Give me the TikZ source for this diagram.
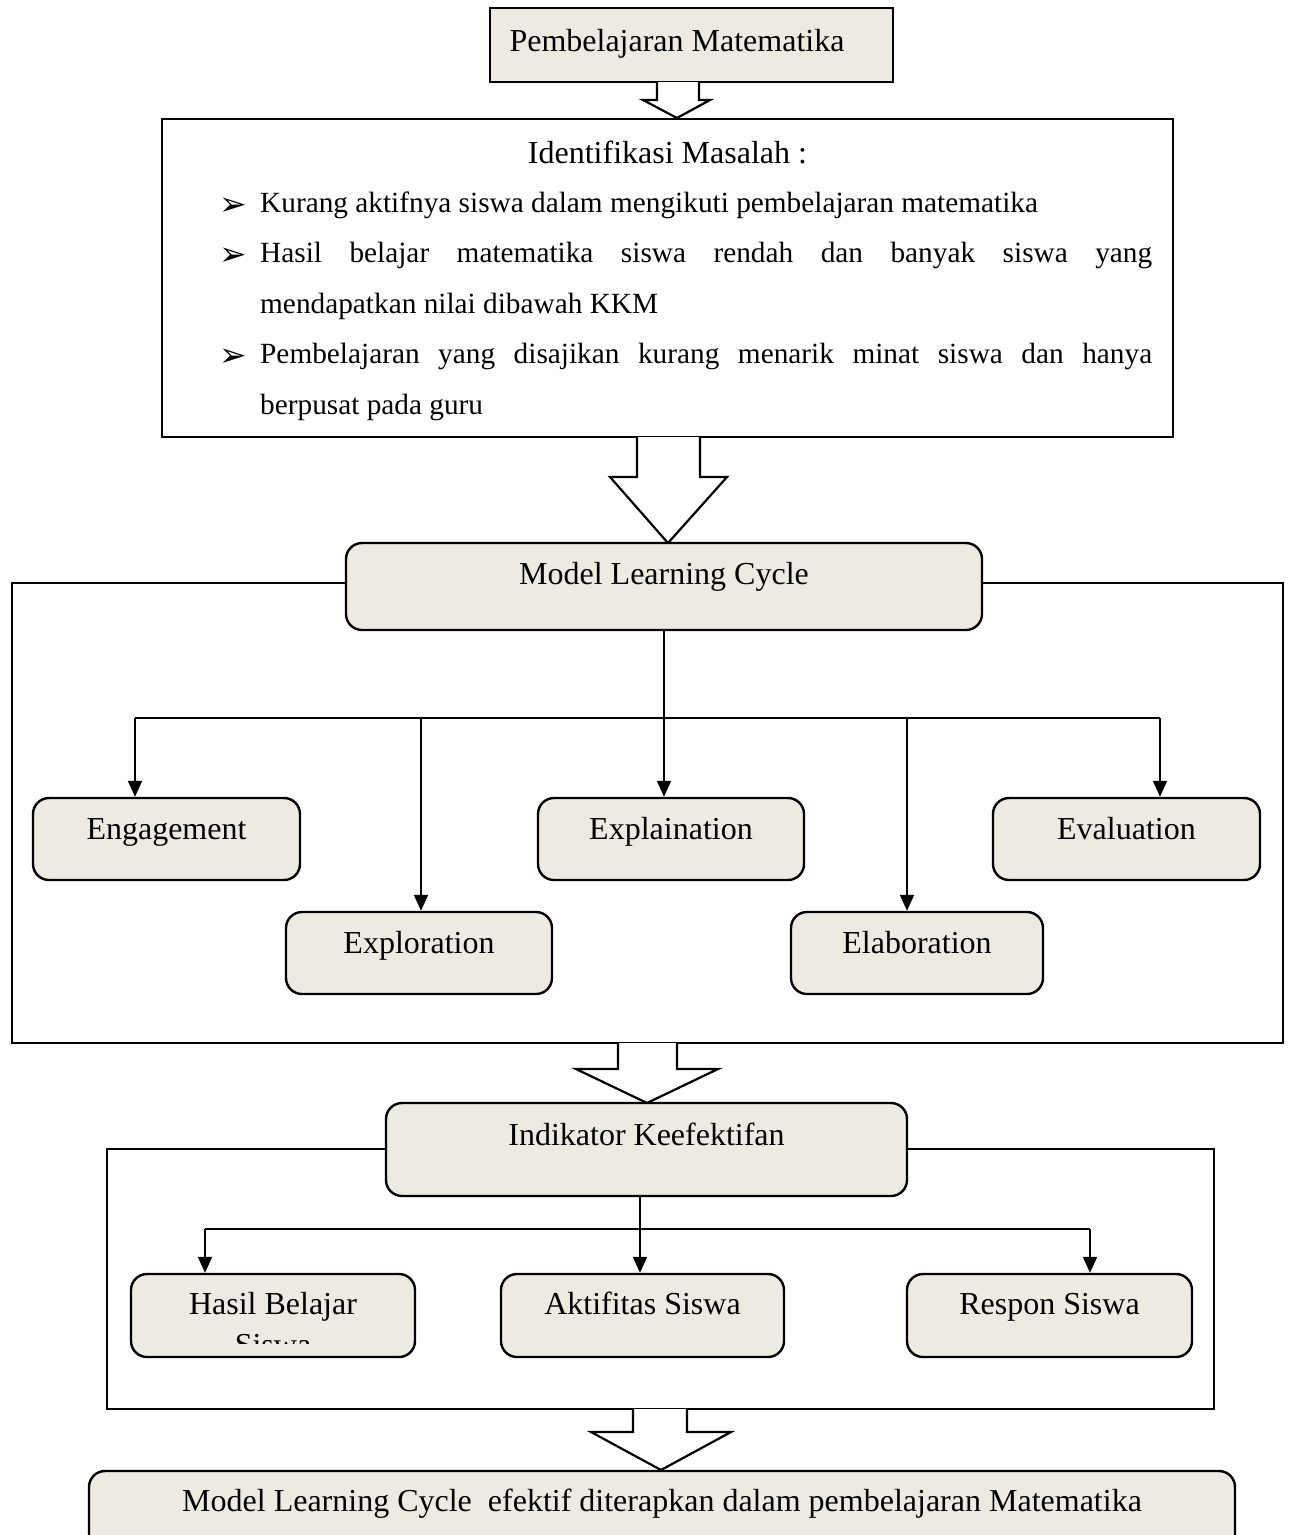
\documentclass[tikz,border=0pt]{standalone}
\usepackage{fontspec}
\setmainfont{Liberation Serif}
\newfontfamily\dingfont{DejaVu Sans}
\usetikzlibrary{arrows.meta,calc}
\definecolor{boxfill}{RGB}{237,235,225}
\newcommand\lblfont{\fontsize{32pt}{38pt}\selectfont}
\newcommand\itemfont{\fontsize{29.3pt}{35pt}\selectfont}
\tikzset{
  frame/.style={draw, line width=2.2pt},
  sbox/.style={draw, line width=2.4pt, fill=boxfill, inner sep=0pt},
  rbox/.style={sbox, rounded corners=16pt},
  lbl/.style={inner sep=0pt, anchor=base, font=\lblfont},
  itm/.style={inner sep=0pt, anchor=base west, font=\itemfont},
  bul/.style={inner sep=0pt, anchor=base, font=\dingfont\fontsize{33pt}{35pt}\selectfont},
  conn/.style={line width=2pt},
  arr/.style={line width=2pt, -{Triangle[width=14pt,length=16pt]}},
}
% block arrow: top y, stem left, stem right, neck y, head left, head right, tip x, tip y
\newcommand\blockarrow[8]{%
  \fill[white] (#2,#1) -- (#2,#4) -- (#5,#4) -- (#7,#8) -- (#6,#4) -- (#3,#4) -- (#3,#1) -- cycle;
  \draw[line width=2.2pt, line join=miter] (#2,#1) -- (#2,#4) -- (#5,#4) -- (#7,#8) -- (#6,#4) -- (#3,#4) -- (#3,#1);
}
\begin{document}
\begin{tikzpicture}[x=1pt, y=-1pt]
\useasboundingbox (0,0) rectangle (1290,1535);
\clip (0,0) rectangle (1290,1535);

% ---- outer frames (behind everything) ----
\draw[frame] (12,583) rectangle (1283,1043);
\draw[frame] (107,1149) rectangle (1214,1409);

% ---- problem identification frame ----
\node[draw, line width=2.2pt, fill=white, inner sep=0pt, minimum width=1011pt, minimum height=318pt] (ident) at (667.5,278) {};

% ---- top box ----
\node[sbox, minimum width=403pt, minimum height=74pt] (top) at (691.5,45) {};

% ---- block arrows ----
\blockarrow{82}{657}{699}{100}{643}{710}{677}{118}
\blockarrow{437}{637}{700}{477}{610}{727}{668}{543}
\blockarrow{1043}{618}{677}{1069}{576}{718}{647}{1103}
\blockarrow{1409}{633}{687}{1432}{591}{731}{661}{1470}

\node[lbl] (topT) at (677,51) {Pembelajaran Matematika};

% ---- identification text ----
\node[lbl] (identT) at (667.5,163) {Identifikasi Masalah :};
\node[bul] (b1) at (233,215) {➢};
\node[itm] (i1) at (260,212) {Kurang aktifnya siswa dalam mengikuti pembelajaran matematika};
\node[bul] (b2) at (233,265) {➢};
\node[itm] (i2) at (260,262) {\makebox[892pt][s]{Hasil belajar matematika siswa rendah dan banyak siswa yang}};
\node[itm] (i2b) at (260,313) {mendapatkan nilai dibawah KKM};
\node[bul] (b3) at (233,366) {➢};
\node[itm] (i3) at (260,363) {\makebox[892pt][s]{Pembelajaran yang disajikan kurang menarik minat siswa dan hanya}};
\node[itm] (i3b) at (260,414) {berpusat pada guru};

% ---- Model Learning Cycle ----
\node[rbox, minimum width=636pt, minimum height=87pt] (mlc) at (664,586.5) {};
\node[lbl] (mlcT) at ([yshift=-43pt]mlc.north) {Model Learning Cycle};

\node[rbox, minimum width=267pt, minimum height=82pt] (eng) at (166.5,839) {};
\node[rbox, minimum width=266pt, minimum height=82pt] (expl) at (671,839) {};
\node[rbox, minimum width=267pt, minimum height=82pt] (eval) at (1126.5,839) {};
\node[rbox, minimum width=266pt, minimum height=82pt] (explo) at (419,953) {};
\node[rbox, minimum width=252pt, minimum height=82pt] (elab) at (917,953) {};
\node[lbl] (engT) at ([yshift=-43pt]eng.north) {Engagement};
\node[lbl] (explT) at ([yshift=-43pt]expl.north) {Explaination};
\node[lbl] (evalT) at ([yshift=-43pt]eval.north) {Evaluation};
\node[lbl] (exploT) at ([yshift=-43pt]explo.north) {Exploration};
\node[lbl] (elabT) at ([yshift=-43pt]elab.north) {Elaboration};

% branching connectors
\coordinate (busL) at (135,718);
\coordinate (busR) at (1160,718);
\coordinate (busA) at (421,718);
\coordinate (busB) at (907,718);
\draw[conn] (busL) -- (busR);
\draw[arr] (mlc.south) -- (mlc.south |- expl.north);
\draw[arr] (busL) -- (busL |- eng.north);
\draw[arr] (busA) -- (busA |- explo.north);
\draw[arr] (busB) -- (busB |- elab.north);
\draw[arr] (busR) -- (busR |- eval.north);

% ---- effectiveness indicators ----
\node[rbox, minimum width=521pt, minimum height=93pt] (ind) at (646.5,1149.5) {};
\node[lbl] (indT) at ([yshift=-44pt]ind.north) {Indikator Keefektifan};

\node[rbox, minimum width=284pt, minimum height=83pt] (hasil) at (273,1315.5) {};
\node[rbox, minimum width=283pt, minimum height=83pt] (aktif) at (642.5,1315.5) {};
\node[rbox, minimum width=285pt, minimum height=83pt] (respon) at (1049.5,1315.5) {};
\node[lbl] (aktifT) at ([yshift=-42pt]aktif.north) {Aktifitas Siswa};
\node[lbl] (responT) at ([yshift=-42pt]respon.north) {Respon Siswa};
\node[lbl] (hasilT) at ([yshift=-42pt]hasil.north) {Hasil Belajar};
\begin{scope}
  \clip (131,1280) rectangle (415,1343);
  \node[lbl] (hasilT2) at ([yshift=-83pt]hasil.north) {Siswa};
\end{scope}

\coordinate (bus2L) at (205,1229);
\coordinate (bus2M) at (640,1229);
\coordinate (bus2R) at (1090,1229);
\draw[conn] (bus2L) -- (bus2R);
\draw[conn] (ind.south -| bus2M) -- (bus2M);
\draw[arr] (bus2L) -- (bus2L |- hasil.north);
\draw[arr] (bus2M) -- (bus2M |- aktif.north);
\draw[arr] (bus2R) -- (bus2R |- respon.north);

% ---- conclusion ----
\node[rbox, minimum width=1146pt, minimum height=80pt] (final) at (662,1511) {};
\node[lbl] (finalT) at ([yshift=-42pt]final.north) {Model Learning Cycle\ \ efektif diterapkan dalam pembelajaran Matematika};
\end{tikzpicture}
\end{document}
